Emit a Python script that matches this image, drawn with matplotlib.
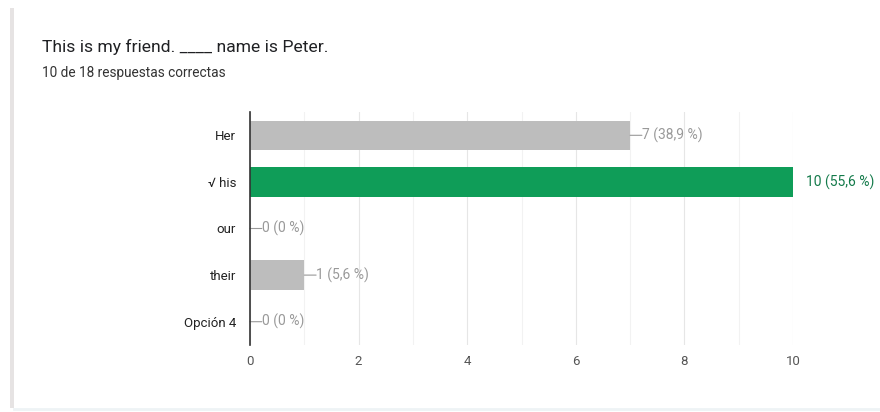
import matplotlib
matplotlib.use("Agg")
import matplotlib.pyplot as plt
from matplotlib.patches import Rectangle
from matplotlib.lines import Line2D
from matplotlib.ticker import MultipleLocator

title = "This is my friend. ____ name is Peter."
subtitle = "10 de 18 respuestas correctas"
categories = ["Her", "\u221a his", "our", "their", "Opci\u00f3n 4"]
counts = [7, 10, 0, 1, 0]
percents = ["38,9", "55,6", "0", "5,6", "0"]
correct = [False, True, False, False, False]
xticks = [0, 2, 4, 6, 8, 10]

plt.rcParams['font.family'] = ['Roboto', 'DejaVu Sans']

fig = plt.figure(figsize=(8.8, 4.12), dpi=100)
fig.patch.set_facecolor("white")

# card left border and bottom edge
fig.add_artist(Rectangle((10/880, 1-408/412), 4/880, 400/412, transform=fig.transFigure,
                         facecolor="#e6e3e3", edgecolor="none"))
fig.add_artist(Line2D([14/880, 1], [1-409/412, 1-409/412], transform=fig.transFigure,
                      color="#eef3f5", lw=2))

fig.text(42/880, 1-47/412, title, fontsize=12.6, color="#202124", va="center", ha="left")
fig.text(42/880, 1-73/412, subtitle, fontsize=9.8, color="#333333", va="center", ha="left")

ax = fig.add_axes([250/880, 1-345/412, (793-250)/880, (345-112)/412])
ypos = list(range(len(categories)))
colors = ["#0f9d58" if c else "#bdbdbd" for c in correct]
ax.barh(ypos, counts, height=0.63, color=colors, zorder=3)
ax.set_xlim(0, 10)
ax.set_ylim(len(categories)-0.5, -0.5)
ax.set_yticks(ypos)
ax.set_yticklabels(categories, fontsize=9.5, color="#222222")
ax.set_xticks(xticks)
ax.set_xticklabels([str(t) for t in xticks], fontsize=9.5, color="#555555")
ax.xaxis.set_minor_locator(MultipleLocator(1))
ax.tick_params(axis="y", length=0, pad=10)
ax.tick_params(axis="x", length=0, pad=7)
ax.tick_params(axis="x", which="minor", length=0)
ax.grid(axis="x", which="major", color="#e6e6e6", lw=0.8, zorder=0)
ax.grid(axis="x", which="minor", color="#f2f2f2", lw=0.8, zorder=0)
for s in ["top", "right", "bottom"]:
    ax.spines[s].set_visible(False)
ax.spines["left"].set_color("#333333")
ax.spines["left"].set_linewidth(1.2)
ax.spines["left"].set_zorder(4)

for y, c, p, ok in zip(ypos, counts, percents, correct):
    label = f"{c} ({p} %)"
    if ok:
        ax.annotate(label, xy=(c, y), xytext=(9, 0), textcoords="offset points",
                    va="center", ha="left", fontsize=10, color="#137a4a",
                    annotation_clip=False)
    else:
        ax.annotate("", xy=(c, y), xytext=(8.5, 0), textcoords="offset points",
                    arrowprops=dict(arrowstyle="-", color="#999999", lw=0.8,
                                    shrinkA=0, shrinkB=0), annotation_clip=False)
        ax.annotate(label, xy=(c, y), xytext=(8.5, 0), textcoords="offset points",
                    va="center", ha="left", fontsize=10, color="#999999",
                    annotation_clip=False)

fig.savefig("out.png", dpi=100, facecolor="white")
